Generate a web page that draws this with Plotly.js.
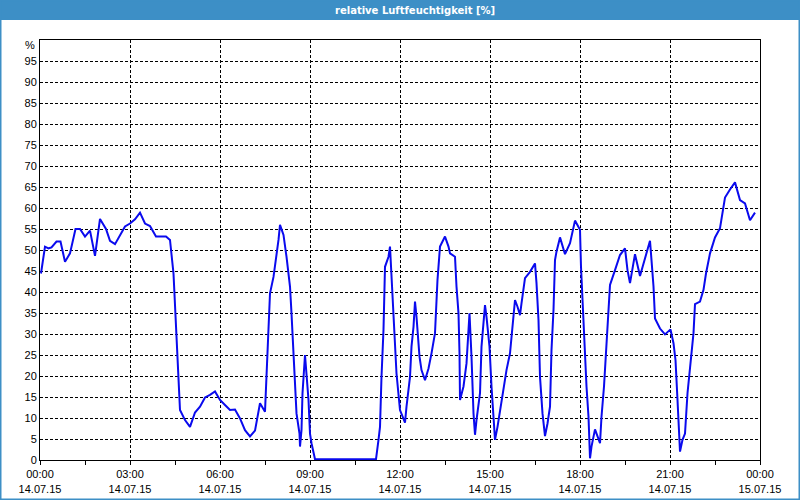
<!DOCTYPE html>
<html>
<head>
<meta charset="utf-8">
<script src="https://cdn.plot.ly/plotly-3.0.1.min.js"></script>
<style>
  html, body { margin: 0; padding: 0; background: #fff; }
  #chart { width: 800px; height: 500px; }
</style>
</head>
<body>
<div id="chart"></div>
<script>
// Minuten nach Mitternacht (14.07.15) und rel. Feuchte in %
const minutes = [
  2, 5, 10, 17, 23, 33, 41, 50, 60, 71, 80, 90, 100, 110, 120, 132, 140, 150, 160, 170,
  180, 190, 200, 210, 220, 232, 252, 260, 267, 270, 273, 277, 280, 290, 300, 310, 320, 330, 340, 350,
  360, 370, 380, 390, 400, 410, 420, 430, 440, 450, 453, 457, 460, 467, 472, 477, 480, 487, 493, 500,
  503, 507, 510, 513, 519, 520, 523, 525, 530, 533, 537, 540, 543, 550, 600, 640, 672, 677, 680, 683,
  687, 690, 697, 700, 703, 707, 710, 713, 720, 730, 733, 740, 743, 747, 750, 753, 759, 763, 770, 777,
  783, 790, 795, 800, 810, 817, 820, 830, 833, 837, 839, 840, 847, 853, 859, 861, 863, 867, 870, 873,
  880, 883, 890, 893, 899, 903, 907, 910, 915, 920, 927, 933, 940, 945, 950, 955, 960, 963, 970, 980,
  990, 993, 997, 1000, 1005, 1010, 1015, 1020, 1023, 1027, 1030, 1033, 1040, 1050, 1060, 1070, 1080, 1082, 1085, 1089,
  1093, 1097, 1100, 1103, 1110, 1120, 1123, 1128, 1133, 1140, 1150, 1160, 1170, 1175, 1180, 1190, 1200, 1210, 1220, 1223,
  1227, 1230, 1240, 1250, 1261, 1267, 1271, 1275, 1280, 1285, 1290, 1295, 1300, 1307, 1310, 1320, 1327, 1332, 1340, 1350,
  1360, 1370, 1380, 1390, 1400, 1410, 1420, 1430
];
const humidity = [
  44.4, 47.2, 50.8, 50.4, 50.6, 52.0, 52.0, 47.2, 49.2, 55.0, 55.0, 53.2, 54.6, 48.6, 57.4, 55.0, 52.2, 51.4, 53.6, 55.6,
  56.3, 57.3, 58.9, 56.3, 55.7, 53.2, 53.2, 52.4, 44.4, 36.5, 28.6, 19.8, 11.9, 9.5, 7.9, 11.3, 12.7, 14.9, 15.5, 16.3,
  14.3, 13.1, 11.9, 12.0, 9.9, 7.1, 5.6, 7.0, 13.5, 11.5, 19.8, 30.2, 39.7, 43.6, 47.6, 52.4, 56.0, 53.6, 48.4, 41.3,
  34.9, 23.8, 17.5, 11.1, 6.3, 3.2, 7.1, 15.9, 25.0, 19.8, 14.3, 6.3, 4.0, 0.2, 0.2, 0.2, 0.2, 4.8, 7.9, 19.8,
  31.0, 46.0, 48.4, 50.8, 44.4, 34.9, 30.2, 20.6, 11.9, 8.9, 12.7, 19.8, 27.0, 31.7, 37.7, 34.1, 24.6, 21.4, 19.0, 21.8,
  25.4, 30.2, 42.9, 50.8, 53.2, 50.8, 49.2, 48.4, 41.3, 34.9, 25.4, 14.3, 17.5, 23.0, 34.9, 30.2, 24.6, 11.1, 6.0, 9.5,
  15.9, 27.0, 36.9, 34.1, 27.0, 17.5, 11.1, 4.8, 7.9, 11.9, 16.7, 21.4, 25.4, 31.7, 38.1, 36.5, 34.5, 37.3, 43.3, 44.8,
  46.8, 42.1, 33.3, 19.8, 11.1, 5.7, 8.7, 12.7, 26.2, 35.7, 47.6, 49.6, 53.0, 49.0, 51.6, 57.0, 54.8, 46.0, 38.1, 27.0,
  17.5, 10.3, 0.4, 3.2, 7.3, 4.0, 10.3, 17.5, 27.0, 41.7, 45.2, 48.8, 50.4, 45.2, 42.1, 49.0, 43.8, 48.0, 52.2, 47.6,
  41.3, 33.7, 31.3, 29.9, 31.1, 27.8, 23.8, 14.3, 2.0, 4.8, 6.3, 15.9, 22.2, 30.2, 37.1, 37.7, 40.5, 44.4, 49.2, 53.0,
  55.2, 62.5, 64.4, 66.1, 61.9, 61.1, 57.1, 58.9
];
const tickMinutes = [0, 180, 360, 540, 720, 900, 1080, 1260, 1440];
const tickTimes = ["00:00", "03:00", "06:00", "09:00", "12:00", "15:00", "18:00", "21:00", "00:00"];
const tickDates = ["14.07.15", "14.07.15", "14.07.15", "14.07.15", "14.07.15", "14.07.15", "14.07.15", "14.07.15", "15.07.15"];
const yTicks = [0, 5, 10, 15, 20, 25, 30, 35, 40, 45, 50, 55, 60, 65, 70, 75, 80, 85, 90, 95];

function toDate(m) {
  const day = m >= 1440 ? 15 : 14;
  const mm = m % 1440;
  const h = String(Math.floor(mm / 60)).padStart(2, "0");
  const mi = String(mm % 60).padStart(2, "0");
  return "2015-07-" + day + " " + h + ":" + mi;
}

const font = { family: "Liberation Sans, Arial, sans-serif", size: 11, color: "#000" };
const frameBlue = "#3d8fc6";

const trace = {
  x: minutes.map(toDate),
  y: humidity,
  mode: "lines",
  type: "scatter",
  line: { color: "#0a0aee", width: 2 },
  hoverinfo: "x+y"
};

const layout = {
  width: 800,
  height: 500,
  margin: { l: 40, r: 40, t: 40, b: 40 },
  paper_bgcolor: "#fff",
  plot_bgcolor: "#fff",
  showlegend: false,
  font: font,
  xaxis: {
    type: "date",
    range: [toDate(0), toDate(1440)],
    tickvals: tickMinutes.map(toDate),
    ticktext: tickTimes.map((t, i) => t + "<br>" + tickDates[i]),
    ticks: "outside",
    ticklen: 4,
    tickcolor: "#000",
    showgrid: true,
    gridcolor: "#000",
    gridwidth: 1,
    griddash: "3px,2px",
    minor: { dtick: 90 * 60 * 1000, ticks: "outside", ticklen: 4, tickcolor: "#000", showgrid: false },
    showline: true,
    linecolor: "#000",
    linewidth: 1,
    mirror: true,
    zeroline: false,
    tickfont: font
  },
  yaxis: {
    range: [0, 100],
    tickvals: yTicks,
    ticktext: yTicks.map(String),
    ticks: "",
    showgrid: true,
    gridcolor: "#000",
    gridwidth: 1,
    griddash: "3px,2px",
    showline: true,
    linecolor: "#000",
    linewidth: 1,
    mirror: true,
    zeroline: false,
    tickfont: font
  },
  shapes: [
    { type: "rect", xref: "paper", yref: "paper",
      x0: -40 / 720, x1: 760 / 720, y0: 440 / 420, y1: 460 / 420,
      fillcolor: frameBlue, line: { width: 0 }, layer: "below" },
    { type: "rect", xref: "paper", yref: "paper",
      x0: -40 / 720, x1: 760 / 720, y0: -40 / 420, y1: 460 / 420,
      fillcolor: "rgba(0,0,0,0)", line: { color: frameBlue, width: 3 } }
  ],
  annotations: [
    { xref: "paper", yref: "paper", x: 415 / 720 - 40 / 720, y: 450 / 420,
      xanchor: "center", yanchor: "middle", showarrow: false,
      text: "<b>relative Luftfeuchtigkeit [%]</b>",
      font: { family: "DejaVu Sans, Verdana, sans-serif", size: 10, color: "#fff" } },
    { xref: "paper", yref: "paper", x: -3 / 720, y: 415 / 420,
      xanchor: "right", yanchor: "middle", showarrow: false,
      text: "%", font: font }
  ]
};

Plotly.newPlot("chart", [trace], layout, { displayModeBar: false, staticPlot: true });
</script>
</body>
</html>
